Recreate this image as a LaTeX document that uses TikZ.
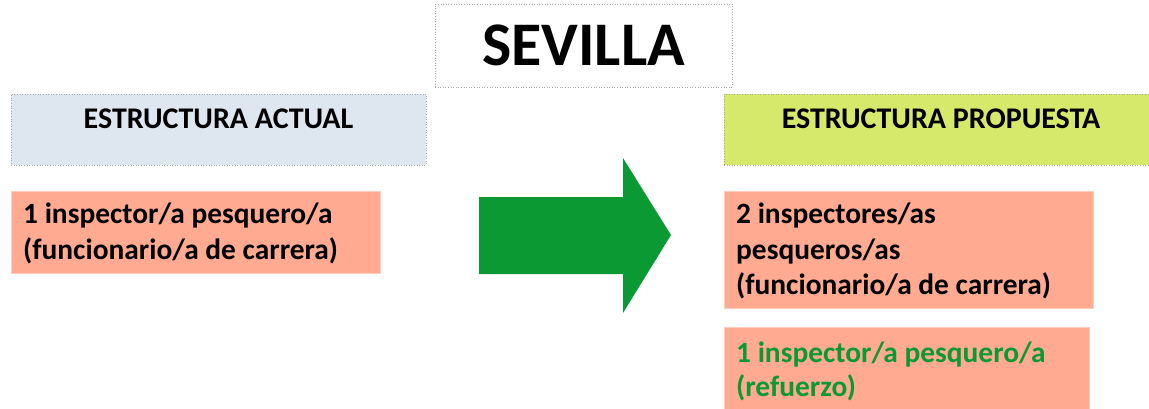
\documentclass[tikz,border=0pt]{standalone}
\usepackage{fontspec}
\setmainfont{Carlito}
\definecolor{pinkc}{HTML}{FFAA91}
\definecolor{bluec}{HTML}{DEE6F0}
\definecolor{limec}{HTML}{D6E96B}
\definecolor{greenc}{HTML}{0A9933}
\begin{document}
\begin{tikzpicture}[x=1pt,y=-1pt,
  hdrbox/.style={draw=gray!70, dotted, line width=0.6pt, anchor=north west, inner sep=0pt, outer sep=0pt},
  pinkbox/.style={fill=pinkc, draw=pinkc!60!white, line width=0.5pt, anchor=north west, inner sep=0pt, outer sep=0pt},
  hdrtxt/.style={anchor=base, inner sep=0pt, font=\fontsize{30}{34}\selectfont\bfseries},
  bodytxt/.style={anchor=base west, inner sep=0pt, font=\fontsize{29.4}{34}\selectfont\bfseries}]
\useasboundingbox (0,0) rectangle (1149,408);
\clip (0,0) rectangle (1149,408);
% title
\node[hdrbox, minimum width=297pt, minimum height=83pt, font=\fontsize{62}{64}\selectfont\bfseries, anchor=center] (title) at (583.5,45.5) {SEVILLA};
% headers
\node[hdrbox, fill=bluec, minimum width=415pt, minimum height=71pt] (actual) at (11,94) {};
\node[hdrbox, fill=limec, minimum width=434pt, minimum height=71pt] (propuesta) at (724,94) {};
\node[hdrtxt] (actualtxt) at (218.5,128) {ESTRUCTURA ACTUAL};
\node[hdrtxt] (propuestatxt) at (941,128) {ESTRUCTURA PROPUESTA};
% left box
\node[pinkbox, minimum width=369pt, minimum height=82pt] (left) at (11,191) {};
\node[bodytxt] (l1) at (23,223) {1 inspector/a pesquero/a};
\node[bodytxt] (l2) at (23,259) {(funcionario/a de carrera)};
% arrow
\fill[greenc] (479,197) -- (623,197) -- (623,158) -- (671,235) -- (623,313) -- (623,274) -- (479,274) -- cycle;
% right boxes
\node[pinkbox, minimum width=369pt, minimum height=117pt] (right1) at (724,191) {};
\node[bodytxt] (r1) at (736,223) {2 inspectores/as};
\node[bodytxt] (r2) at (736,259) {pesqueros/as};
\node[bodytxt] (r3) at (736,294) {(funcionario/a de carrera)};
\node[pinkbox, minimum width=365pt, minimum height=90pt] (right2) at (724,327) {};
\node[bodytxt, text=greenc] (r4) at (736,362) {1 inspector/a pesquero/a};
\node[bodytxt, text=greenc] (r5) at (736,396) {(refuerzo)};
\end{tikzpicture}
\end{document}
